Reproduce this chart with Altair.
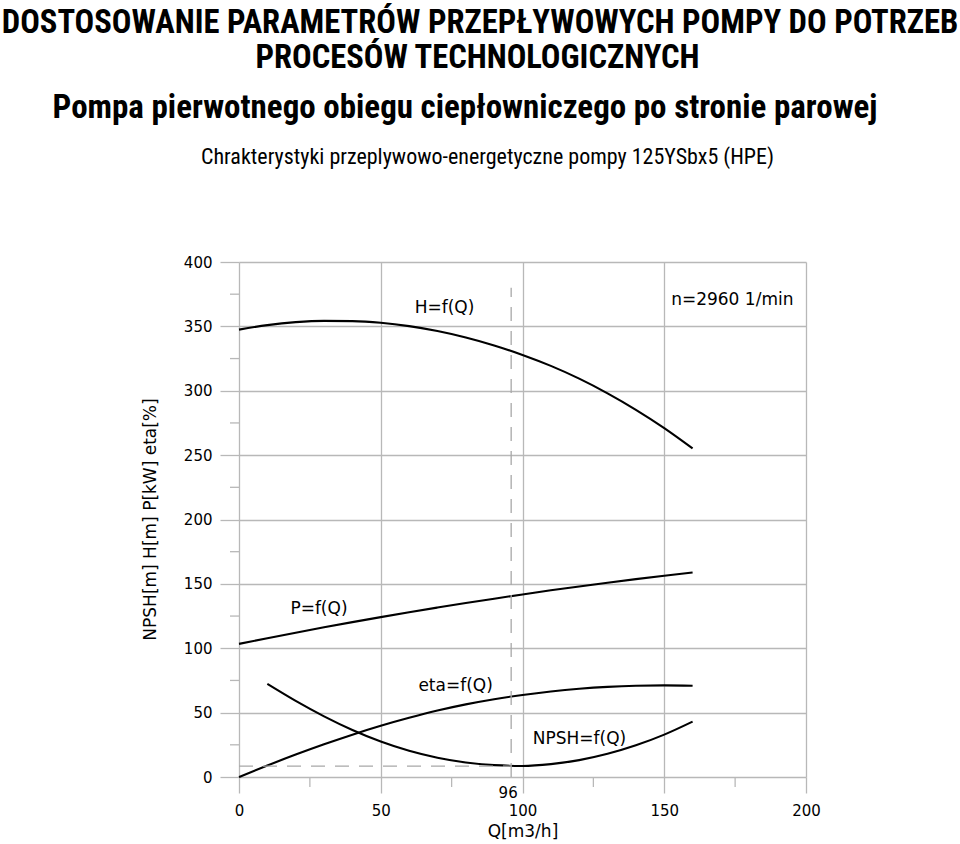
import altair as alt
import pandas as pd

# ---------------- data ----------------
Q = [0, 10, 20, 30, 40, 50, 60, 70, 80, 90, 100, 110, 120, 130, 140, 150, 160]
H = [347.5, 351.0, 353.3, 354.3, 354.1, 352.8, 350.2, 346.4, 341.4, 335.2, 327.8, 319.3, 309.4, 298.0, 285.2, 271.0, 255.2]
P = [103.4, 107.8, 112.1, 116.3, 120.3, 124.2, 128.0, 131.6, 135.1, 138.5, 141.8, 145.0, 148.0, 150.9, 153.7, 156.3, 158.8]
ETA = [0.0, 8.9, 17.4, 25.4, 32.9, 39.8, 46.0, 51.6, 56.4, 60.4, 63.7, 66.4, 68.5, 70.0, 70.9, 71.2, 70.9]
Q_NPSH = [10, 20, 30, 40, 50, 60, 70, 80, 90, 100, 110, 120, 130, 140, 150, 160]
NPSH = [72.3, 59.1, 47.1, 36.5, 27.5, 20.3, 14.9, 11.2, 9.2, 8.6, 10.0, 13.1, 18.0, 24.6, 32.9, 43.0]

Q_OP = 96          # operating point flow
NPSH_OP = 8.5      # NPSH at operating point
V_TOP = 380        # top of vertical dashed line

LABELS = ["H=f(Q)", "n=2960 1/min", "P=f(Q)", "eta=f(Q)", "NPSH=f(Q)"]
LABEL_Q = [72.5, 174, 28.2, 76.4, 120.1]
LABEL_V = [364, 370.5, 130.5, 70.8, 29.2]

X_TICKS = [0, 50, 100, 150, 200]
Y_TICKS = [0, 50, 100, 150, 200, 250, 300, 350, 400]
X_MINOR = [25, 75, 125, 175]
Y_MINOR = [25, 75, 125, 175, 225, 275, 325, 375]

TITLE1 = "DOSTOSOWANIE PARAMETRÓW PRZEPŁYWOWYCH POMPY DO POTRZEB"
TITLE2 = "PROCESÓW TECHNOLOGICZNYCH"
TITLE3 = "Pompa pierwotnego obiegu ciepłowniczego po stronie parowej"
TITLE4 = "Chrakterystyki przeplywowo-energetyczne pompy 125YSbx5 (HPE)"
X_TITLE = "Q[m3/h]"
Y_TITLE = "NPSH[m] H[m] P[kW] eta[%]"

# ---------------- tables ----------------
rows = []
for name, qs, vs in [("H", Q, H), ("P", Q, P), ("eta", Q, ETA), ("NPSH", Q_NPSH, NPSH)]:
    for q, v in zip(qs, vs):
        rows.append({"Q": q, "v": v, "s": name})
curves_df = pd.DataFrame(rows)

FONT = "DejaVu Sans"
TFONT = "Liberation Sans Narrow, Roboto Condensed, DejaVu Sans Condensed, Liberation Sans, sans-serif"
GRID = "#b8b8b8"

xs = alt.Scale(domain=[0, 200], nice=False, zero=False)
ys = alt.Scale(domain=[0, 400], nice=False, zero=False)

x_axis = alt.Axis(values=X_TICKS, grid=True, gridColor=GRID, gridWidth=1.3,
                  tickColor=GRID, tickWidth=1.3, tickSize=16, domain=False,
                  labelFont=FONT, labelFontSize=15, labelColor="black",
                  labelPadding=10, labelFlush=False, labelOverlap=False,
                  title=X_TITLE, titleFont=FONT, titleFontSize=17,
                  titleFontWeight="normal", titleColor="black",
                  titleY=54, titleBaseline="middle")
y_axis = alt.Axis(values=Y_TICKS, grid=True, gridColor=GRID, gridWidth=1.3,
                  tickColor=GRID, tickWidth=1.3, tickSize=19, domain=False,
                  labelFont=FONT, labelFontSize=15, labelColor="black",
                  labelPadding=8, labelFlush=False, labelOverlap=False,
                  title=Y_TITLE, titleFont=FONT, titleFontSize=17,
                  titleFontWeight="normal", titleColor="black",
                  titleX=-89, titleY=257, titleAngle=270,
                  titleAlign="center", titleBaseline="middle")

curves = alt.Chart(curves_df).mark_line(color="black", strokeWidth=2.1, interpolate="monotone").encode(
    x=alt.X("Q:Q", scale=xs, axis=x_axis),
    y=alt.Y("v:Q", scale=ys, axis=y_axis),
    detail="s:N",
)

dash = [14, 10]
h_dash = alt.Chart(pd.DataFrame({"x1": [0], "x2": [Q_OP], "y": [NPSH_OP]})).mark_rule(
    color="#a8a8a8", strokeWidth=1.3, strokeDash=dash).encode(
    x=alt.X("x1:Q", scale=xs), x2="x2:Q", y=alt.Y("y:Q", scale=ys))
v_dash = alt.Chart(pd.DataFrame({"x": [Q_OP], "y1": [0], "y2": [V_TOP]})).mark_rule(
    color="#a8a8a8", strokeWidth=1.3, strokeDash=dash).encode(
    x=alt.X("x:Q", scale=xs), y=alt.Y("y1:Q", scale=ys), y2="y2:Q")

y_minor = alt.Chart(pd.DataFrame({"y": Y_MINOR})).mark_rule(color=GRID, strokeWidth=1.3).encode(
    y=alt.Y("y:Q", scale=ys), x=alt.value(-9), x2=alt.value(0))
x_minor = alt.Chart(pd.DataFrame({"x": X_MINOR})).mark_rule(color=GRID, strokeWidth=1.3).encode(
    x=alt.X("x:Q", scale=xs), y=alt.value(515), y2=alt.value(525))

labels = alt.Chart(pd.DataFrame({"Q": LABEL_Q, "v": LABEL_V, "t": LABELS})).mark_text(
    font=FONT, fontSize=17, color="black", align="center", baseline="middle").encode(
    x=alt.X("Q:Q", scale=xs), y=alt.Y("v:Q", scale=ys), text="t:N")

op_label = alt.Chart(pd.DataFrame({"Q": [Q_OP], "t": [str(Q_OP)]})).mark_text(
    font=FONT, fontSize=15, color="black", align="center", baseline="middle", dx=-3).encode(
    x=alt.X("Q:Q", scale=xs), y=alt.value(531), text="t:N")


def title_layer(txt, x, y, size, weight):
    return alt.Chart(pd.DataFrame({"t": [txt]})).mark_text(
        font=TFONT, fontSize=size, fontWeight=weight, color="black",
        align="center", baseline="alphabetic").encode(
        x=alt.value(x), y=alt.value(y), text="t:N")


t1 = title_layer(TITLE1, 241, -229, 32.6, "bold")
t2 = title_layer(TITLE2, 238.5, -194, 32.6, "bold")
t3 = title_layer(TITLE3, 226, -144, 33, "bold")
t4 = title_layer(TITLE4, 248.5, -98, 22, "normal")

chart = alt.layer(
    curves, h_dash, v_dash, y_minor, x_minor, labels, op_label, t1, t2, t3, t4
).properties(
    width=567, height=515,
    autosize=alt.AutoSizeParams(type="none"),
    padding={"left": 239, "top": 262, "right": 154, "bottom": 67},
    background="white",
).configure_view(stroke=None)

chart.save("out.html", embed_options={"renderer": "svg", "actions": False})
